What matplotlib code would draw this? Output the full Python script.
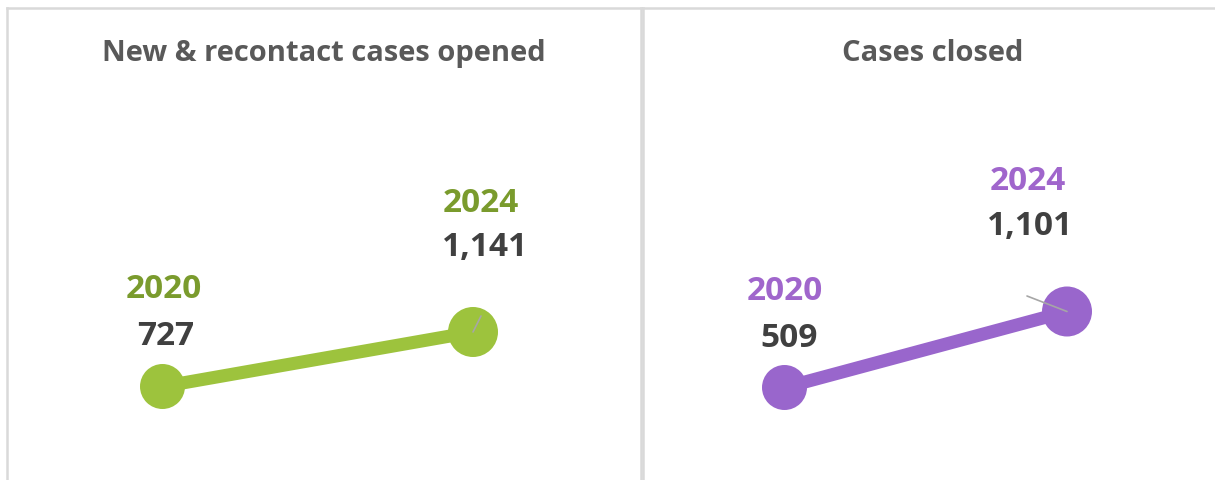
import matplotlib.pyplot as plt

# data
years = ['2020', '2024']
opened = [727, 1141]
closed = [509, 1101]
titles = ['New & recontact cases opened', 'Cases closed']

# styling
W, H = 1215, 480
line_colors = ['#9DC33D', '#9966CC']
year_colors = ['#7A9B2D', '#A066CC']
value_color = '#404040'
title_color = '#595959'
border_color = '#D9D9D9'

plt.rcParams['font.family'] = ['Open Sans', 'DejaVu Sans']

# panel layout in pixels: box (left, right), marker centres (x, y)
panels = [
    dict(box=(7, 641), px=(162.5, 473), py=(386.5, 332),
         sizes=(45, 50),
         year_off=[(1, 88.5), (7.5, 120)],
         value_off=[(3.5, 41.5), (12, 76)],
         leader=(8, 16)),
    dict(box=(643, 1223), px=(784.5, 1067), py=(387.5, 311.5),
         sizes=(45, 50),
         year_off=[(0.5, 87.5), (-39, 121.5)],
         value_off=[(5, 40.5), (-37, 76.5)],
         leader=(-40, 15.5)),
]
top_px = 8


def fmt(v):
    return f'{v:,}'


fig = plt.figure(figsize=(W / 100, H / 100), dpi=100)

for k, (values, title, lay) in enumerate(zip([opened, closed], titles, panels)):
    x0, x1 = lay['box']
    ax = fig.add_axes([x0 / W, 0, (x1 - x0) / W, (H - top_px) / H])

    # map pixel layout to data limits
    px0, px1 = lay['px']
    sx = px1 - px0
    ax.set_xlim((x0 - px0) / sx, (x1 - px0) / sx)
    py0, py1 = lay['py']
    sy = (py0 - py1) / (values[1] - values[0])
    ax.set_ylim(values[0] + (py0 - H) / sy, values[0] + (py0 - top_px) / sy)

    xs = range(len(years))
    ax.plot(xs, values, color=line_colors[k], lw=9.4, solid_capstyle='butt', zorder=2)
    ax.scatter(xs, values, s=[(d * 0.72) ** 2 for d in lay['sizes']],
               color=line_colors[k], edgecolor='none', zorder=3)

    # leader line on the last point
    ax.annotate('', xy=(1, values[1]), xytext=lay['leader'], textcoords='offset pixels',
                arrowprops=dict(arrowstyle='-', color='#A6A6A6', lw=1.2,
                                shrinkA=0, shrinkB=0), zorder=4)

    for i in xs:
        ax.annotate(years[i], xy=(i, values[i]), xytext=lay['year_off'][i],
                    textcoords='offset pixels', ha='center', va='baseline',
                    fontsize=24, fontweight='bold', color=year_colors[k])
        ax.annotate(fmt(values[i]), xy=(i, values[i]), xytext=lay['value_off'][i],
                    textcoords='offset pixels', ha='center', va='baseline',
                    fontsize=24, fontweight='bold', color=value_color)

    ax.text(0.5, 1 - (61 - top_px) / (H - top_px), title, transform=ax.transAxes,
            ha='center', va='baseline', fontsize=21, fontweight='bold', color=title_color)

    ax.set_xticks([])
    ax.set_yticks([])
    for side in ['left', 'top', 'right']:
        ax.spines[side].set_color(border_color)
        ax.spines[side].set_linewidth(1.8)
    ax.spines['bottom'].set_visible(False)

fig.savefig('out.png', dpi=100)
